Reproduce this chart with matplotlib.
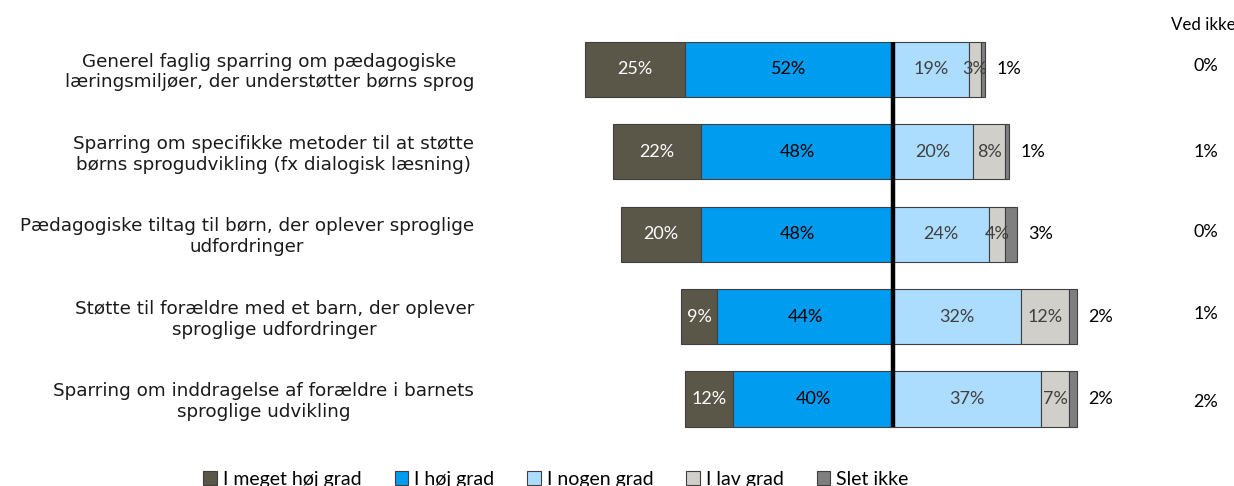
import matplotlib
matplotlib.use("Agg")
import matplotlib.pyplot as plt
import matplotlib.transforms as mtransforms
from matplotlib.patches import Patch

categories = [
    "Generel faglig sparring om pædagogiske\nlæringsmiljøer, der understøtter børns sprog",
    "Sparring om specifikke metoder til at støtte\nbørns sprogudvikling (fx dialogisk læsning)",
    "Pædagogiske tiltag til børn, der oplever sproglige\nudfordringer",
    "Støtte til forældre med et barn, der oplever\nsproglige udfordringer",
    "Sparring om inddragelse af forældre i barnets\nsproglige udvikling",
]
meget_hoej = [25, 22, 20, 9, 12]
hoej = [52, 48, 48, 44, 40]
nogen = [19, 20, 24, 32, 37]
lav = [3, 8, 4, 12, 7]
slet_ikke = [1, 1, 3, 2, 2]
ved_ikke = [0, 1, 0, 1, 2]
series_names = ["I meget høj grad", "I høj grad", "I nogen grad", "I lav grad", "Slet ikke"]
colors = ["#5A5749", "#009CEF", "#ADDDFE", "#D1CFC9", "#7F7F7F"]
label_colors = ["white", "black", "#404040", "#404040", "black"]
# layout: vertical nudge of the "Ved ikke" labels (pixels, + = down)
ved_ikke_dy_px = [-3.5, 0, -2, -3, 3]

W, H = 1234, 486
fig = plt.figure(figsize=(W / 100, H / 100), dpi=100)
ax_left_px, ax_right_px = 493, 1133
top_px, bot_px = 20, 448.5
ax = fig.add_axes([ax_left_px / W, 1 - bot_px / H, (ax_right_px - ax_left_px) / W, (bot_px - top_px) / H])
ax.set_xlim(-100, 60)
ax.set_ylim(4.6, -0.6)
ax.axis("off")
px_per_unit = (bot_px - top_px) / 5.2

pct_font = dict(family=["Lato", "DejaVu Sans"], fontsize=13)
bh = 0.67
ys = list(range(len(categories)))
edge = "#3F3F3F"

for i, y in enumerate(ys):
    left_parts = [(-hoej[i] - meget_hoej[i], meget_hoej[i], 0), (-hoej[i], hoej[i], 1)]
    right_parts = []
    start = 0
    for k, v in zip([2, 3, 4], [nogen[i], lav[i], slet_ikke[i]]):
        right_parts.append((start, v, k))
        start += v
    vals = [meget_hoej, hoej, nogen, lav]
    for (x0, w, k) in left_parts + right_parts:
        ax.barh(y, w, left=x0, height=bh, color=colors[k], edgecolor=edge, linewidth=0.8)
        if k < 4:
            ax.text(x0 + w / 2, y, f"{vals[k][i]}%", ha="center", va="center",
                    color=label_colors[k], **pct_font)
    ax.annotate(f"{slet_ikke[i]}%", xy=(start, y), xytext=(8, 0), textcoords="offset points",
                ha="left", va="center", color="black", **pct_font)

ax.plot([0, 0], [-bh / 2, len(categories) - 1 + bh / 2], color="black", linewidth=3.2,
        solid_capstyle="butt", zorder=5)

trans = mtransforms.blended_transform_factory(fig.transFigure, ax.transData)
for i, y in enumerate(ys):
    ax.text(474 / W, y + 0.03, categories[i], transform=trans, ha="right", va="center", multialignment="center",
            fontsize=13.2, family="DejaVu Sans", color="#1a1a1a", linespacing=1.2)
    ax.text(1206 / W, y + ved_ikke_dy_px[i] / px_per_unit, f"{ved_ikke[i]}%", transform=trans,
            ha="center", va="center", color="black", **pct_font)

fig.text(1203 / W, 1 - 25 / H, "Ved ikke", ha="center", va="center", color="black",
         family=["Lato", "DejaVu Sans"], fontsize=12.2)

handles = [Patch(facecolor=c, edgecolor=edge, linewidth=0.8) for c in colors]
fig.legend(handles, series_names, loc="center", bbox_to_anchor=(556 / W, 1 - 479 / H), ncol=5, frameon=False,
           prop=dict(family=["Lato", "DejaVu Sans"], size=14), handlelength=0.7, handleheight=0.7,
           handletextpad=0.3, columnspacing=1.7, borderaxespad=0)

fig.savefig("out.png", dpi=100)
